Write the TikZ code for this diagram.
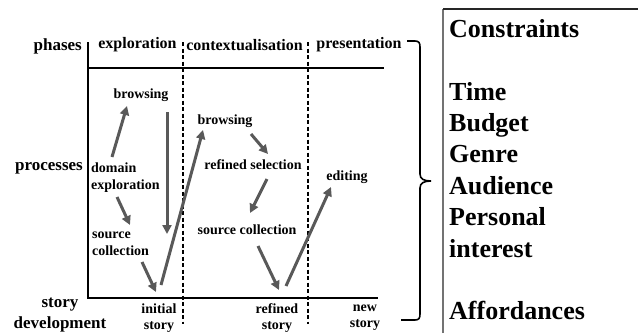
\documentclass[tikz,border=0pt]{standalone}
\usepackage{fontspec}
\setmainfont{Liberation Serif}
\usetikzlibrary{arrows.meta}
\begin{document}
\begin{tikzpicture}[x=1pt,y=-1pt,
  lbl/.style={font=\bfseries\fontsize{17}{19}\selectfont, inner sep=0pt},
  phase/.style={font=\bfseries\fontsize{16}{18}\selectfont, inner sep=0pt},
  proc/.style={font=\bfseries\fontsize{14}{17}\selectfont, inner sep=0pt, align=left},
  story/.style={font=\bfseries\fontsize{14}{16}\selectfont, inner sep=0pt, align=center},
  axis/.style={line width=1.7pt},
  divider/.style={line width=1.5pt, dash pattern=on 4pt off 2.5pt},
  flow/.style={draw=black!65, line width=3pt,
    -{Triangle[length=9pt,width=9pt]}, shorten >=0pt}]
\useasboundingbox (0,0) rectangle (638,333);

% frame of the process chart
\draw[axis] (88,42) -- (88,298) -- (378,298);
\draw[axis] (88,68) -- (384,68);
\draw[divider] (183,42) -- (183,324);
\draw[divider] (308,42) -- (308,324);

% row labels
\node[lbl, anchor=east] (rphases) at (82,46) {phases};
\node[lbl, anchor=east] (rproc) at (83,168) {processes};
\node[lbl] (rstory) at (60,305) {story};
\node[lbl] (rdev) at (60,324) {development};

% phase headings
\node[phase] (pexp) at (137.5,45) {exploration};
\node[phase] (pctx) at (244.5,45) {contextualisation};
\node[phase] (ppre) at (359,45) {presentation};

% processes
\node[proc] (brA) at (141,95) {browsing};
\node[proc, anchor=west] (dom) at (91,178) {domain\\exploration};
\node[proc, anchor=west] (srcA) at (92,243.5) {source\\collection};
\node[story] (init) at (159,318) {initial\\story};
\node[proc] (brB) at (225,121) {browsing};
\node[proc] (rsel) at (253,165) {refined selection};
\node[proc] (srcB) at (247,230) {source collection};
\node[proc] (edit) at (347,177) {editing};
\node[story] (rst) at (277,318) {refined\\story};
\node[story] (nst) at (365,318) {new\\story};

% arrow end points
\coordinate (a1s) at (112,157); \coordinate (a1e) at (127,106);
\coordinate (a2s) at (167,112); \coordinate (a2e) at (167,234);
\coordinate (a3s) at (117,197); \coordinate (a3e) at (130,225);
\coordinate (a4s) at (142,262); \coordinate (a4e) at (156,292);
\coordinate (a5s) at (161,285); \coordinate (a5e) at (203,130);
\coordinate (a6s) at (251,134); \coordinate (a6e) at (268,154);
\coordinate (a7s) at (267,179); \coordinate (a7e) at (250,213);
\coordinate (a8s) at (258,246); \coordinate (a8e) at (279,290);
\coordinate (a9s) at (286,286); \coordinate (a9e) at (331,187);

\draw[flow] (a1s) -- (a1e);
\draw[flow] (a2s) -- (a2e);
\draw[flow] (a3s) -- (a3e);
\draw[flow] (a4s) -- (a4e);
\draw[flow] (a5s) -- (a5e);
\draw[flow] (a6s) -- (a6e);
\draw[flow] (a7s) -- (a7e);
\draw[flow] (a8s) -- (a8e);
\draw[flow] (a9s) -- (a9e);

% brace gathering the chart
\draw[line width=1.6pt]
  (407,41) -- (415,41) .. controls (419,41) and (420,43) .. (420,47)
  -- (420,174) .. controls (420,179) and (424,181) .. (431,181)
  .. controls (424,181) and (420,183) .. (420,188)
  -- (420,314) .. controls (420,318) and (419,320) .. (415,320) -- (401,320);

% constraints panel
\draw[black!55, line width=1.4pt] (443,333) -- (443,9);
\draw[black!85, line width=1.4pt] (443,9) -- (638,9);
\node[font=\bfseries\fontsize{26}{31.4}\selectfont, inner sep=0pt,
  align=left, anchor=north west] (cons) at (449,19)
  {Constraints\\[31.4pt]Time\\Budget\\Genre\\Audience\\Personal\\interest\\[31.4pt]Affordances};
\end{tikzpicture}
\end{document}
